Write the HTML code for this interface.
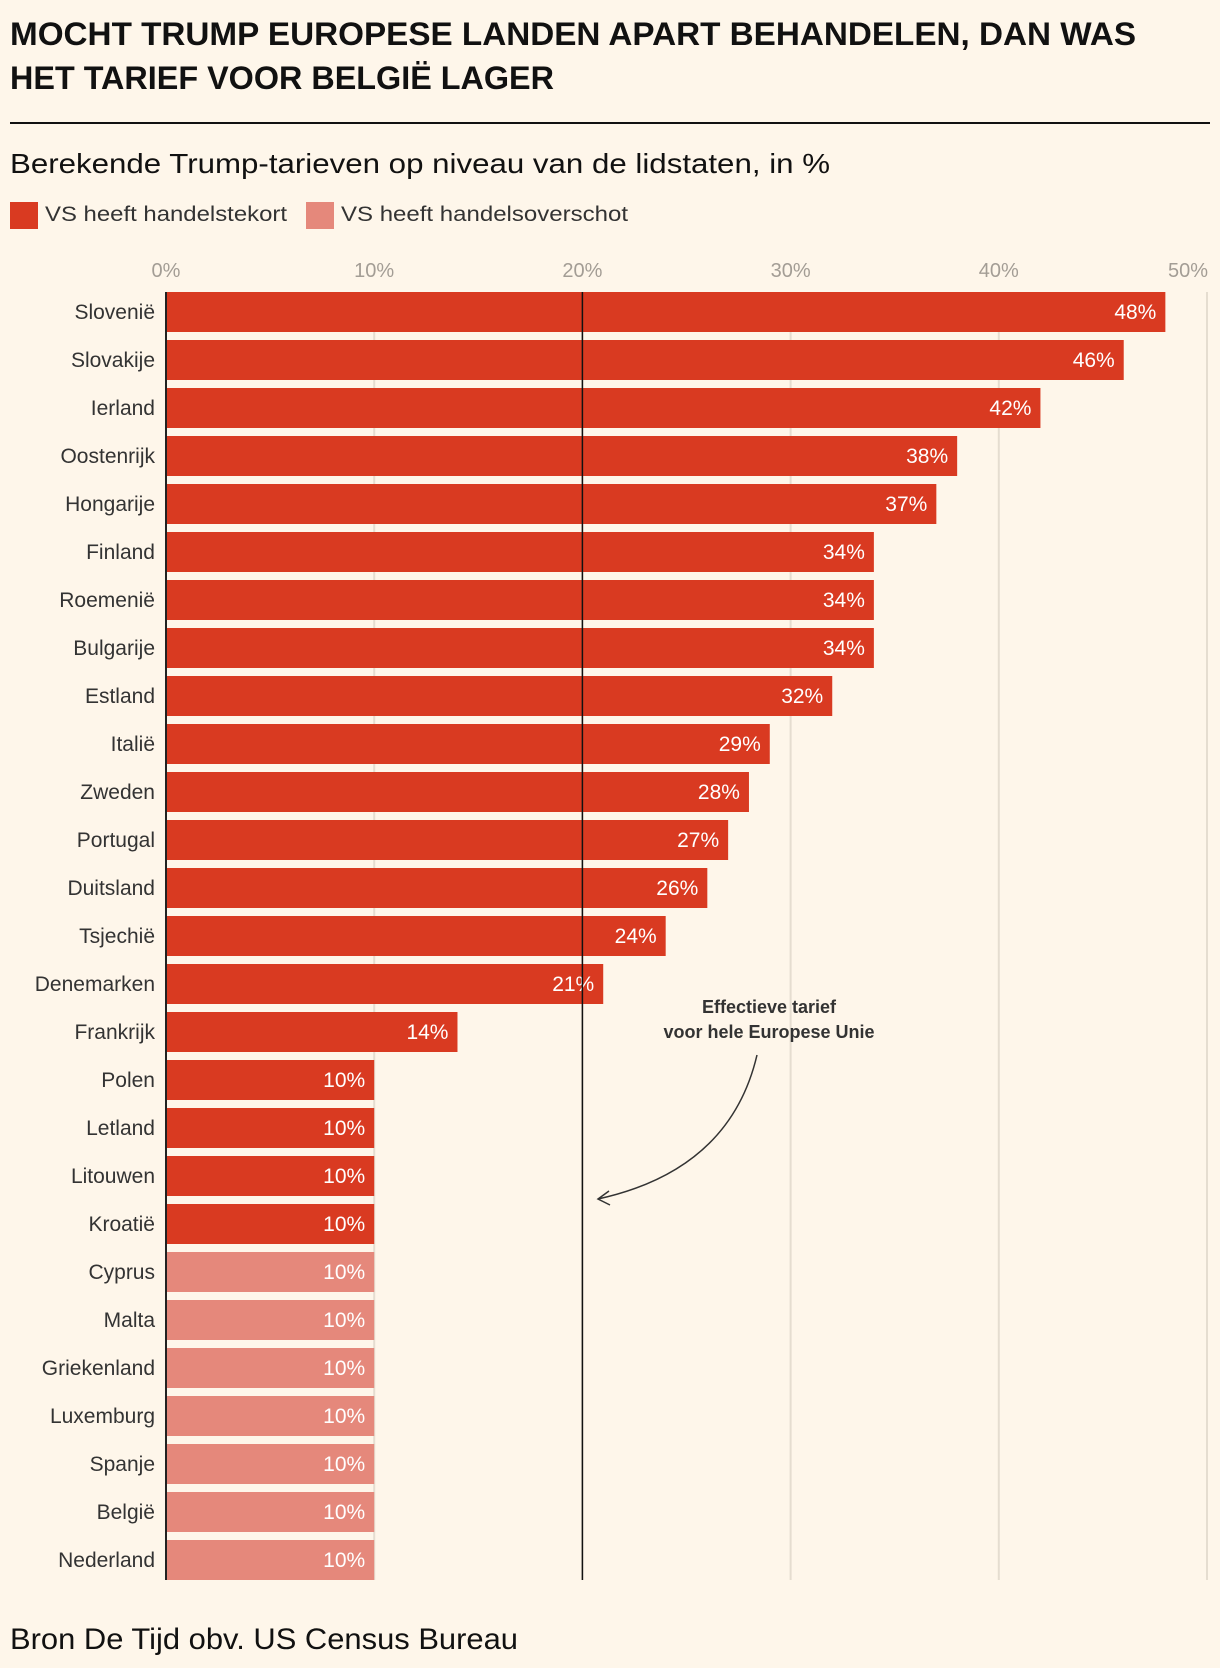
<!DOCTYPE html>
<html><head><meta charset="utf-8">
<style>
body{margin:0;background:#fef6ea;}
svg{display:block;font-family:"Liberation Sans",sans-serif;}
</style></head>
<body>
<svg id="chart" width="1220" height="1668" viewBox="0 0 1220 1668">
<rect width="1220" height="1668" fill="#fef6ea"/>
<text x="10" y="45" font-size="32" font-weight="bold" fill="#111" textLength="1126" lengthAdjust="spacingAndGlyphs">MOCHT TRUMP EUROPESE LANDEN APART BEHANDELEN, DAN WAS</text>
<text x="10" y="89" font-size="32" font-weight="bold" fill="#111" textLength="544" lengthAdjust="spacingAndGlyphs">HET TARIEF VOOR BELGIË LAGER</text>
<line x1="10" y1="123" x2="1210" y2="123" stroke="#111" stroke-width="2"/>
<text x="10" y="173" font-size="28" fill="#111" textLength="820" lengthAdjust="spacingAndGlyphs">Berekende Trump-tarieven op niveau van de lidstaten, in %</text>
<rect x="10" y="202" width="28" height="27" fill="#d93a21"/>
<text x="45" y="221" font-size="21" fill="#333" textLength="242" lengthAdjust="spacingAndGlyphs">VS heeft handelstekort</text>
<rect x="306" y="202" width="28" height="27" fill="#e5887b"/>
<text x="341" y="221" font-size="21" fill="#333" textLength="287" lengthAdjust="spacingAndGlyphs">VS heeft handelsoverschot</text>
<g id="grid"></g>
<g id="bars"></g>
<text x="10" y="1649" font-size="30" fill="#111" textLength="508" lengthAdjust="spacingAndGlyphs">Bron De Tijd obv. US Census Bureau</text>
<text x="769" y="1013" font-size="18" font-weight="bold" fill="#333" text-anchor="middle">Effectieve tarief</text>
<text x="769" y="1038" font-size="18" font-weight="bold" fill="#333" text-anchor="middle">voor hele Europese Unie</text>
<path d="M757,1055 Q730,1170 598,1199" fill="none" stroke="#333" stroke-width="1.5"/>
<path d="M609,1191 L598,1199 L610,1205" fill="none" stroke="#333" stroke-width="1.5"/>
</svg>
<script>
const countries=["Slovenië","Slovakije","Ierland","Oostenrijk","Hongarije","Finland","Roemenië","Bulgarije","Estland","Italië","Zweden","Portugal","Duitsland","Tsjechië","Denemarken","Frankrijk","Polen","Letland","Litouwen","Kroatië","Cyprus","Malta","Griekenland","Luxemburg","Spanje","België","Nederland"];
const values=[48,46,42,38,37,34,34,34,32,29,28,27,26,24,21,14,10,10,10,10,10,10,10,10,10,10,10];
const surplus=[0,0,0,0,0,0,0,0,0,0,0,0,0,0,0,0,0,0,0,0,1,1,1,1,1,1,1];
const ticks=[0,10,20,30,40,50];
const euAverage=20;
const NS="http://www.w3.org/2000/svg";
const x0=166,pxPer=20.82,rowTop=292,pitch=48,barH=40;
const xs=v=>x0+v*pxPer;
const ys=i=>rowTop+i*pitch;
const bottom=ys(countries.length-1)+barH;
function mk(tag,attrs,parent){const e=document.createElementNS(NS,tag);for(const k in attrs)e.setAttribute(k,attrs[k]);parent.appendChild(e);return e;}
const grid=document.getElementById('grid'),bars=document.getElementById('bars');
ticks.forEach((t,k)=>{
  if(t>0){const l=mk('line',{x1:xs(t),x2:xs(t),y1:rowTop,y2:bottom,stroke:'#e5ddd0','stroke-width':2},grid);
  
  }
  const last=k===ticks.length-1;
  const tx=mk('text',{x:last?xs(t)+1:xs(t),y:277,'font-size':20,fill:'#a39d95','text-anchor':last?'end':'middle'},grid);
  tx.textContent=t+'%';
  
  
});
countries.forEach((c,i)=>{
  const y=ys(i);
  const r=mk('rect',{x:x0,y:y,width:xs(values[i])-x0,height:barH,fill:surplus[i]?'#e5887b':'#d93a21'},bars);
  
  
  const lb=mk('text',{x:155,y:y+barH/2+7,'font-size':21,fill:'#333','text-anchor':'end'},bars);
  lb.textContent=c;
  
  
  const vl=mk('text',{x:xs(values[i])-9,y:y+barH/2+7,'font-size':21,fill:'#fff','text-anchor':'end'},bars);
  vl.textContent=values[i]+'%';
  
  
});
const ax=mk('line',{x1:x0,x2:x0,y1:rowTop,y2:bottom,stroke:'#222','stroke-width':2},bars);


const eu=mk('line',{x1:xs(euAverage),x2:xs(euAverage),y1:rowTop,y2:bottom,stroke:'#111','stroke-width':1.5},bars);


</script>
</body></html>
